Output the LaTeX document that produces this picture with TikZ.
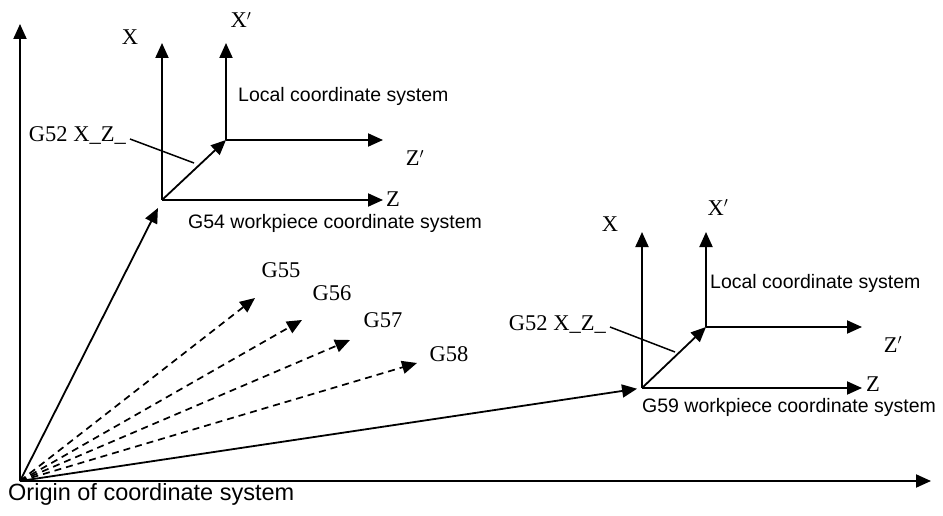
\documentclass[tikz,border=0pt]{standalone}
\usepackage{fontspec}
\setmainfont{Liberation Serif}
\setsansfont{Liberation Sans}
\usetikzlibrary{arrows.meta}

\begin{document}
\begin{tikzpicture}[x=1pt,y=-1pt,
  tip/.style={-{Triangle[length=15pt,width=13pt]}},
  axis/.style={line width=2pt,tip},
  offsetvec/.style={line width=1.8pt,tip},
  dashvec/.style={line width=1.7pt,dash pattern=on 7pt off 5pt,tip},
  leader/.style={line width=1.5pt},
  lbl/.style={font=\fontsize{22.5}{22.5}\selectfont,inner sep=0pt,anchor=base},
  caption/.style={font=\sffamily\fontsize{19.5}{20}\selectfont,inner sep=0pt,anchor=base west}]

\useasboundingbox (0,0) rectangle (943,516);

% machine origin and main axes
\coordinate (O) at (20,481);
\coordinate (mainX) at (20,24);
\coordinate (mainZ) at (931,481);

% G54 workpiece system and its local system
\coordinate (A) at (162,200);
\coordinate (AX) at (162,43);
\coordinate (AZ) at (383,200);
\coordinate (B) at (226,140);
\coordinate (BX) at (226,43);
\coordinate (BZ) at (383,140);

% G59 workpiece system and its local system
\coordinate (C) at (642,388);
\coordinate (CX) at (642,232);
\coordinate (CZ) at (862,388);
\coordinate (D) at (706,327);
\coordinate (DX) at (706,232);
\coordinate (DZ) at (862,327);

% other work offsets
\coordinate (g55) at (255,298);
\coordinate (g56) at (302,320);
\coordinate (g57) at (350,340);
\coordinate (g58) at (417,363);

% leader line ends
\coordinate (la1) at (130,139);
\coordinate (la2) at (194,163);
\coordinate (lb1) at (610,327);
\coordinate (lb2) at (675,352);

\draw[axis] (O) -- (mainX);
\draw[axis] (O) -- (mainZ);

\draw[offsetvec,shorten >=9pt] (O) -- (A);
\draw[offsetvec,shorten >=5pt] (O) -- (C);

\draw[dashvec] (O) -- (g55);
\draw[dashvec] (O) -- (g56);
\draw[dashvec] (O) -- (g57);
\draw[dashvec] (O) -- (g58);

\draw[axis] (A) -- (AX);
\draw[axis] (A) -- (AZ);
\draw[offsetvec] (A) -- (B);
\draw[axis] (B) -- (BX);
\draw[axis] (B) -- (BZ);

\draw[axis] (C) -- (CX);
\draw[axis] (C) -- (CZ);
\draw[offsetvec] (C) -- (D);
\draw[axis] (D) -- (DX);
\draw[axis] (D) -- (DZ);

\draw[leader] (la1) -- (la2);
\draw[leader] (lb1) -- (lb2);

% labels of the G54 group
\node[lbl] (tAX) at (130,45) {X};
\node[lbl] (tBX) at (241,28) {X$'$};
\node[lbl] (tBZ) at (415,166) {Z$'$};
\node[lbl,anchor=base west] (tAZ) at (386,207) {Z};
\node[lbl,anchor=base east] (tg52a) at (126,142) {G52 X\_Z\_};
\node[caption] (tloca) at (238,102) {Local coordinate system};
\node[caption] (tg54) at (188,228) {G54 workpiece coordinate system};

% labels of the G59 group
\node[lbl] (tCX) at (610,231) {X};
\node[lbl] (tDX) at (718,215) {X$'$};
\node[lbl] (tDZ) at (893,352) {Z$'$};
\node[lbl,anchor=base west] (tCZ) at (866,391) {Z};
\node[lbl,anchor=base east] (tg52b) at (606,330) {G52 X\_Z\_};
\node[caption] (tlocb) at (710,288) {Local coordinate system};
\node[caption] (tg59) at (642,412) {G59 workpiece coordinate system};

% work offset labels
\node[lbl] (t55) at (281,277) {G55};
\node[lbl] (t56) at (332,300) {G56};
\node[lbl] (t57) at (383,327) {G57};
\node[lbl] (t58) at (449,361) {G58};

\node[caption,font=\sffamily\fontsize{23.5}{24}\selectfont] (torg) at (8,500) {Origin of coordinate system};
\end{tikzpicture}
\end{document}
